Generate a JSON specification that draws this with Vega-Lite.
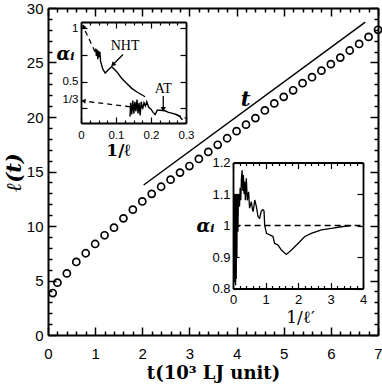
{
  "$schema": "https://vega.github.io/schema/vega-lite/v6.json",
  "width": 330,
  "height": 327,
  "autosize": "none",
  "padding": {"left": 48, "top": 8, "right": 4, "bottom": 49},
  "config": {
    "view": {"stroke": null},
    "axis": {"grid": false, "domainColor": "black", "tickColor": "black", "labelColor": "black", "titleColor": "black", "labelFlush": false, "labelOverlap": false, "labelBound": false}
  },
  "datasets": {
    "circles": [
      {"t": 0.1, "l": 3.85}, {"t": 0.2, "l": 4.8}, {"t": 0.4, "l": 5.65}, {"t": 0.6, "l": 6.7},
      {"t": 0.8, "l": 7.5}, {"t": 1.0, "l": 8.35}, {"t": 1.2, "l": 9.15}, {"t": 1.4, "l": 9.85},
      {"t": 1.6, "l": 10.7}, {"t": 1.8, "l": 11.5}, {"t": 2.0, "l": 12.25}, {"t": 2.2, "l": 12.95},
      {"t": 2.4, "l": 13.6}, {"t": 2.6, "l": 14.25}, {"t": 2.8, "l": 14.9}, {"t": 3.0, "l": 15.5},
      {"t": 3.2, "l": 16.15}, {"t": 3.4, "l": 16.8}, {"t": 3.6, "l": 17.45}, {"t": 3.8, "l": 18.05},
      {"t": 4.0, "l": 18.7}, {"t": 4.2, "l": 19.3}, {"t": 4.4, "l": 19.9}, {"t": 4.6, "l": 20.6},
      {"t": 4.8, "l": 21.25}, {"t": 5.0, "l": 21.85}, {"t": 5.2, "l": 22.45}, {"t": 5.4, "l": 23.1},
      {"t": 5.6, "l": 23.65}, {"t": 5.8, "l": 24.25}, {"t": 6.0, "l": 24.85}, {"t": 6.2, "l": 25.45},
      {"t": 6.4, "l": 26.1}, {"t": 6.6, "l": 26.7}, {"t": 6.8, "l": 27.35}, {"t": 7.0, "l": 28.0}
    ],
    "tline": [{"t": 2.03, "l": 13.76}, {"t": 6.73, "l": 28.7}],
    "tlabel": [{"t": 4.19, "l": 21.6, "label": "t"}],
    "in1": [
      {"s": "nht", "i": 1, "x": 0.040, "y": 0.78}, {"s": "nht", "i": 2, "x": 0.042, "y": 0.81},
      {"s": "nht", "i": 3, "x": 0.044, "y": 0.74}, {"s": "nht", "i": 4, "x": 0.046, "y": 0.80},
      {"s": "nht", "i": 5, "x": 0.048, "y": 0.71}, {"s": "nht", "i": 6, "x": 0.050, "y": 0.79},
      {"s": "nht", "i": 7, "x": 0.052, "y": 0.73}, {"s": "nht", "i": 8, "x": 0.054, "y": 0.78},
      {"s": "nht", "i": 9, "x": 0.056, "y": 0.69}, {"s": "nht", "i": 10, "x": 0.062, "y": 0.62},
      {"s": "nht", "i": 11, "x": 0.069, "y": 0.58}, {"s": "nht", "i": 12, "x": 0.078, "y": 0.61},
      {"s": "nht", "i": 13, "x": 0.088, "y": 0.64}, {"s": "nht", "i": 14, "x": 0.102, "y": 0.593},
      {"s": "nht", "i": 15, "x": 0.116, "y": 0.531}, {"s": "nht", "i": 16, "x": 0.13, "y": 0.484},
      {"s": "nht", "i": 17, "x": 0.145, "y": 0.436}, {"s": "nht", "i": 18, "x": 0.159, "y": 0.404},
      {"s": "nht", "i": 19, "x": 0.183, "y": 0.357},
      {"s": "at", "i": 1, "x": 0.140, "y": 0.17}, {"s": "at", "i": 2, "x": 0.142, "y": 0.30},
      {"s": "at", "i": 3, "x": 0.145, "y": 0.19}, {"s": "at", "i": 4, "x": 0.148, "y": 0.32},
      {"s": "at", "i": 5, "x": 0.151, "y": 0.20}, {"s": "at", "i": 6, "x": 0.154, "y": 0.31},
      {"s": "at", "i": 7, "x": 0.157, "y": 0.22}, {"s": "at", "i": 8, "x": 0.160, "y": 0.33},
      {"s": "at", "i": 9, "x": 0.163, "y": 0.20}, {"s": "at", "i": 10, "x": 0.166, "y": 0.30},
      {"s": "at", "i": 11, "x": 0.169, "y": 0.18}, {"s": "at", "i": 12, "x": 0.172, "y": 0.31},
      {"s": "at", "i": 13, "x": 0.176, "y": 0.24}, {"s": "at", "i": 14, "x": 0.180, "y": 0.30},
      {"s": "at", "i": 15, "x": 0.184, "y": 0.27}, {"s": "at", "i": 16, "x": 0.188, "y": 0.31},
      {"s": "at", "i": 17, "x": 0.193, "y": 0.26}, {"s": "at", "i": 18, "x": 0.200, "y": 0.24},
      {"s": "at", "i": 19, "x": 0.206, "y": 0.21}, {"s": "at", "i": 20, "x": 0.212, "y": 0.19},
      {"s": "at", "i": 21, "x": 0.218, "y": 0.23}, {"s": "at", "i": 22, "x": 0.226, "y": 0.23},
      {"s": "at", "i": 23, "x": 0.240, "y": 0.225}, {"s": "at", "i": 24, "x": 0.250, "y": 0.21},
      {"s": "at", "i": 25, "x": 0.262, "y": 0.20}, {"s": "at", "i": 26, "x": 0.272, "y": 0.19},
      {"s": "at", "i": 27, "x": 0.282, "y": 0.17}, {"s": "at", "i": 28, "x": 0.290, "y": 0.14},
      {"s": "d1", "i": 1, "x": 0.040, "y": 0.78}, {"s": "d1", "i": 2, "x": 0.006, "y": 1.02},
      {"s": "d2", "i": 1, "x": 0.140, "y": 0.263}, {"s": "d2", "i": 2, "x": 0.006, "y": 0.317},
      {"s": "d3", "i": 1, "x": 0.272, "y": 0.19}, {"s": "d3", "i": 2, "x": 0.300, "y": 0.155}
    ],
    "in1text": [{"x": 0.126, "y": 0.83, "label": "NHT"}, {"x": 0.235, "y": 0.43, "label": "AT"}],
    "in1arrows": [
      {"x": 0.12, "y": 0.755, "x2": 0.093, "y2": 0.665},
      {"x": 0.235, "y": 0.365, "x2": 0.235, "y2": 0.25}
    ],
    "in1heads": [
      {"h": "nht", "x": 0.091, "y": 0.658},
      {"h": "at", "x": 0.235, "y": 0.24},
      {"h": "d1", "x": 0.007, "y": 1.02},
      {"h": "d2", "x": 0.007, "y": 0.317}
    ],
    "in2": [
      {"i": 1, "x": 0.02, "y": 1.0}, {"i": 2, "x": 0.04, "y": 0.82}, {"i": 3, "x": 0.05, "y": 1.10},
      {"i": 4, "x": 0.06, "y": 0.85}, {"i": 5, "x": 0.07, "y": 1.08}, {"i": 6, "x": 0.08, "y": 0.81},
      {"i": 7, "x": 0.09, "y": 1.10}, {"i": 8, "x": 0.10, "y": 0.83}, {"i": 9, "x": 0.11, "y": 1.05},
      {"i": 10, "x": 0.12, "y": 0.90}, {"i": 11, "x": 0.13, "y": 1.10}, {"i": 12, "x": 0.15, "y": 0.98},
      {"i": 13, "x": 0.17, "y": 1.10}, {"i": 14, "x": 0.20, "y": 1.06}, {"i": 15, "x": 0.22, "y": 1.12},
      {"i": 16, "x": 0.24, "y": 1.08}, {"i": 17, "x": 0.26, "y": 1.15}, {"i": 18, "x": 0.28, "y": 1.175},
      {"i": 19, "x": 0.30, "y": 1.11}, {"i": 20, "x": 0.32, "y": 1.16}, {"i": 21, "x": 0.34, "y": 1.10},
      {"i": 22, "x": 0.36, "y": 1.14}, {"i": 23, "x": 0.38, "y": 1.08}, {"i": 24, "x": 0.41, "y": 1.15},
      {"i": 25, "x": 0.44, "y": 1.08}, {"i": 26, "x": 0.48, "y": 1.107}, {"i": 27, "x": 0.51, "y": 1.055},
      {"i": 28, "x": 0.565, "y": 1.076}, {"i": 29, "x": 0.60, "y": 1.05}, {"i": 30, "x": 0.62, "y": 1.044},
      {"i": 31, "x": 0.67, "y": 1.081}, {"i": 32, "x": 0.72, "y": 1.06}, {"i": 33, "x": 0.77, "y": 1.028},
      {"i": 34, "x": 0.82, "y": 1.023}, {"i": 35, "x": 0.87, "y": 1.046}, {"i": 36, "x": 0.92, "y": 1.05},
      {"i": 37, "x": 0.955, "y": 1.046}, {"i": 38, "x": 0.975, "y": 1.0}, {"i": 39, "x": 1.03, "y": 0.975},
      {"i": 40, "x": 1.13, "y": 0.97}, {"i": 41, "x": 1.23, "y": 0.965}, {"i": 42, "x": 1.28, "y": 0.943},
      {"i": 43, "x": 1.385, "y": 0.938}, {"i": 44, "x": 1.49, "y": 0.922}, {"i": 45, "x": 1.64, "y": 0.908},
      {"i": 46, "x": 1.8, "y": 0.922}, {"i": 47, "x": 2.0, "y": 0.943}, {"i": 48, "x": 2.21, "y": 0.965},
      {"i": 49, "x": 2.41, "y": 0.975}, {"i": 50, "x": 2.72, "y": 0.986}, {"i": 51, "x": 3.03, "y": 0.991},
      {"i": 52, "x": 3.33, "y": 0.996}, {"i": 53, "x": 3.64, "y": 0.9995}
    ],
    "in2dash": [{"x": 0.05, "y": 1.0}, {"x": 4.0, "y": 1.0}]
  },
  "layer": [
    {
      "layer": [
        {
          "data": {"name": "circles"},
          "mark": {"type": "point", "shape": "circle", "filled": false, "stroke": "black", "strokeWidth": 1.7, "size": 50, "opacity": 1},
          "encoding": {
            "x": {"field": "t", "type": "quantitative", "scale": {"domain": [0, 7], "nice": false, "zero": false},
              "axis": {"orient": "bottom", "values": [0,0.2,0.4,0.6,0.8,1,1.2,1.4,1.6,1.8,2,2.2,2.4,2.6,2.8,3,3.2,3.4,3.6,3.8,4,4.2,4.4,4.6,4.8,5,5.2,5.4,5.6,5.8,6,6.2,6.4,6.6,6.8,7],
                "tickSize": {"condition": {"test": "abs(datum.value-round(datum.value))<0.001", "value": -8}, "value": -4},
                "tickWidth": 1.5, "domainWidth": 2,
                "labelExpr": "abs(datum.value-round(datum.value))<0.001 ? format(datum.value,'d') : ''",
                "labelFont": "Liberation Sans", "labelFontSize": 15, "labelPadding": 19,
                "title": "t(10³ LJ unit)", "titleFont": "DejaVu Serif", "titleFontWeight": "bold", "titleFontSize": 18,
                "titleX": 165, "titleY": 43, "titleAlign": "center", "titleBaseline": "alphabetic"}},
            "y": {"field": "l", "type": "quantitative", "scale": {"domain": [0, 30], "nice": false, "zero": false},
              "axis": {"orient": "left", "values": [0,1,2,3,4,5,6,7,8,9,10,11,12,13,14,15,16,17,18,19,20,21,22,23,24,25,26,27,28,29,30],
                "tickSize": {"condition": {"test": "datum.value % 5 === 0", "value": -8}, "value": -4},
                "tickWidth": 1.5, "domainWidth": 2,
                "labelExpr": "datum.value % 5 === 0 ? format(datum.value,'d') : ''",
                "labelFont": "Liberation Sans", "labelFontSize": 15, "labelPadding": 13,
                "title": "ℓ(t)", "titleFont": "DejaVu Serif", "titleFontWeight": "bold", "titleFontStyle": "italic", "titleFontSize": 21,
                "titleAngle": 270, "titleX": -34, "titleY": 164, "titleAlign": "center", "titleBaseline": "middle"}}
          }
        },
        {
          "data": {"name": "tline"},
          "mark": {"type": "line", "color": "black", "strokeWidth": 1.5},
          "encoding": {
            "x": {"field": "t", "type": "quantitative", "axis": null},
            "y": {"field": "l", "type": "quantitative", "axis": null}
          }
        },
        {
          "data": {"name": "tlabel"},
          "mark": {"type": "text", "font": "DejaVu Serif", "fontWeight": "bold", "fontStyle": "italic", "fontSize": 21, "color": "black"},
          "encoding": {
            "x": {"field": "t", "type": "quantitative", "axis": null},
            "y": {"field": "l", "type": "quantitative", "axis": null},
            "text": {"field": "label"}
          }
        },
        {
          "data": {"name": "circles"},
          "mark": {"type": "point", "opacity": 0},
          "encoding": {
            "x": {"field": "t", "type": "quantitative",
              "axis": {"orient": "top", "values": [0,0.2,0.4,0.6,0.8,1,1.2,1.4,1.6,1.8,2,2.2,2.4,2.6,2.8,3,3.2,3.4,3.6,3.8,4,4.2,4.4,4.6,4.8,5,5.2,5.4,5.6,5.8,6,6.2,6.4,6.6,6.8,7],
                "tickSize": {"condition": {"test": "abs(datum.value-round(datum.value))<0.001", "value": -8}, "value": -4},
                "tickWidth": 1.5, "domainWidth": 2, "labels": false, "title": null}},
            "y": {"field": "l", "type": "quantitative",
              "axis": {"orient": "right", "values": [0,1,2,3,4,5,6,7,8,9,10,11,12,13,14,15,16,17,18,19,20,21,22,23,24,25,26,27,28,29,30],
                "tickSize": {"condition": {"test": "datum.value % 5 === 0", "value": -8}, "value": -4},
                "tickWidth": 1.5, "domainWidth": 2, "labels": false, "title": null}}
          }
        }
      ]
    },
    {
      "layer": [
        {
          "data": {"name": "in1"},
          "transform": [{"filter": "datum.s == 'nht' || datum.s == 'at'"}],
          "mark": {"type": "line", "color": "black", "strokeWidth": 1.4},
          "encoding": {
            "x": {"field": "x", "type": "quantitative", "scale": {"domain": [0, 0.3], "range": [33, 138], "nice": false, "zero": false},
              "axis": {"orient": "bottom", "offset": -212, "values": [0,0.025,0.05,0.075,0.1,0.125,0.15,0.175,0.2,0.225,0.25,0.275,0.3],
                "tickSize": {"condition": {"test": "abs(datum.value*10-round(datum.value*10))<0.001", "value": -6}, "value": -3},
                "tickWidth": 1.2, "domainWidth": 1.8,
                "labelExpr": "abs(datum.value*10-round(datum.value*10))<0.001 ? (datum.value == 0 ? '0' : format(datum.value,'.1f')) : ''",
                "labelFont": "Liberation Sans", "labelFontSize": 11.5, "labelPadding": 12,
                "title": "1/ℓ", "titleFont": "DejaVu Serif", "titleFontWeight": "bold", "titleFontSize": 17,
                "titleX": 70, "titleY": 27, "titleAlign": "center", "titleBaseline": "middle"}},
            "y": {"field": "y", "type": "quantitative", "scale": {"domain": [0.11, 1.06], "range": [115, 14], "nice": false, "zero": false},
              "axis": {"orient": "left", "offset": -33, "values": [1, 0.75, 0.5, 0.333333, 0.25],
                "tickSize": -6, "tickWidth": 1.2, "domainWidth": 1.8, "labelOverlap": false,
                "tickOpacity": {"condition": {"test": "datum.value > 0.3 && datum.value < 0.36", "value": 0}, "value": 1},
                "labelExpr": "datum.value > 0.9 ? '1' : (datum.value > 0.45 && datum.value < 0.55 ? '0.5' : (datum.value > 0.3 && datum.value < 0.36 ? '1/3' : ''))",
                "labelFont": "Liberation Sans", "labelFontSize": 11.5, "labelPadding": 9,
                "title": "αᵢ", "titleFont": "DejaVu Serif", "titleFontWeight": "bold", "titleFontStyle": "italic", "titleFontSize": 18,
                "titleAngle": 0, "titleX": -16, "titleY": 46, "titleAlign": "center", "titleBaseline": "middle"}},
            "detail": {"field": "s"},
            "order": {"field": "i", "type": "quantitative"}
          }
        },
        {
          "data": {"name": "in1"},
          "transform": [{"filter": "datum.s == 'd1' || datum.s == 'd2' || datum.s == 'd3'"}],
          "mark": {"type": "line", "color": "black", "strokeWidth": 1.3, "strokeDash": [5, 4]},
          "encoding": {
            "x": {"field": "x", "type": "quantitative", "axis": null},
            "y": {"field": "y", "type": "quantitative", "axis": null},
            "detail": {"field": "s"},
            "order": {"field": "i", "type": "quantitative"}
          }
        },
        {
          "data": {"name": "in1arrows"},
          "mark": {"type": "rule", "color": "black", "strokeWidth": 1.3},
          "encoding": {
            "x": {"field": "x", "type": "quantitative", "axis": null},
            "y": {"field": "y", "type": "quantitative", "axis": null},
            "x2": {"field": "x2"},
            "y2": {"field": "y2"}
          }
        },
        {
          "data": {"name": "in1heads"},
          "transform": [{"filter": "datum.h == 'nht'"}],
          "mark": {"type": "point", "shape": "triangle-up", "filled": true, "color": "black", "size": 28, "angle": 225, "opacity": 1},
          "encoding": {
            "x": {"field": "x", "type": "quantitative", "axis": null},
            "y": {"field": "y", "type": "quantitative", "axis": null}
          }
        },
        {
          "data": {"name": "in1heads"},
          "transform": [{"filter": "datum.h == 'at'"}],
          "mark": {"type": "point", "shape": "triangle-up", "filled": true, "color": "black", "size": 28, "angle": 180, "opacity": 1},
          "encoding": {
            "x": {"field": "x", "type": "quantitative", "axis": null},
            "y": {"field": "y", "type": "quantitative", "axis": null}
          }
        },
        {
          "data": {"name": "in1heads"},
          "transform": [{"filter": "datum.h == 'd1'"}],
          "mark": {"type": "point", "shape": "triangle-up", "filled": true, "color": "black", "size": 24, "angle": 335, "opacity": 1},
          "encoding": {
            "x": {"field": "x", "type": "quantitative", "axis": null},
            "y": {"field": "y", "type": "quantitative", "axis": null}
          }
        },
        {
          "data": {"name": "in1heads"},
          "transform": [{"filter": "datum.h == 'd2'"}],
          "mark": {"type": "point", "shape": "triangle-up", "filled": true, "color": "black", "size": 24, "angle": 277, "opacity": 1},
          "encoding": {
            "x": {"field": "x", "type": "quantitative", "axis": null},
            "y": {"field": "y", "type": "quantitative", "axis": null}
          }
        },
        {
          "data": {"name": "in1text"},
          "mark": {"type": "text", "font": "Liberation Serif", "fontSize": 14, "color": "black"},
          "encoding": {
            "x": {"field": "x", "type": "quantitative", "axis": null},
            "y": {"field": "y", "type": "quantitative", "axis": null},
            "text": {"field": "label"}
          }
        },
        {
          "data": {"name": "in1"},
          "mark": {"type": "point", "opacity": 0},
          "encoding": {
            "x": {"field": "x", "type": "quantitative",
              "axis": {"orient": "top", "offset": -14, "values": [0,0.025,0.05,0.075,0.1,0.125,0.15,0.175,0.2,0.225,0.25,0.275,0.3],
                "tickSize": {"condition": {"test": "abs(datum.value*10-round(datum.value*10))<0.001", "value": -6}, "value": -3},
                "tickWidth": 1.2, "domainWidth": 1.8, "labels": false, "title": null}},
            "y": {"field": "y", "type": "quantitative",
              "axis": {"orient": "right", "offset": -192, "values": [0.25, 0.5, 0.75, 1],
                "tickSize": -6, "tickWidth": 1.2, "domainWidth": 1.8, "labels": false, "title": null}}
          }
        }
      ]
    },
    {
      "layer": [
        {
          "data": {"name": "in2"},
          "mark": {"type": "line", "color": "black", "strokeWidth": 1.3},
          "encoding": {
            "x": {"field": "x", "type": "quantitative", "scale": {"domain": [0, 4], "range": [185, 315], "nice": false, "zero": false},
              "axis": {"orient": "bottom", "offset": -46.5, "values": [0,0.2,0.4,0.6,0.8,1,1.2,1.4,1.6,1.8,2,2.2,2.4,2.6,2.8,3,3.2,3.4,3.6,3.8,4],
                "tickSize": {"condition": {"test": "abs(datum.value-round(datum.value))<0.001", "value": -6}, "value": -3},
                "tickWidth": 1.2, "domainWidth": 1.8,
                "labelExpr": "abs(datum.value-round(datum.value))<0.001 ? format(datum.value,'d') : ''",
                "labelFont": "Liberation Sans", "labelFontSize": 13, "labelPadding": 11,
                "title": "1/ℓ′", "titleFont": "DejaVu Serif", "titleFontWeight": "normal", "titleFontSize": 17,
                "titleX": 252, "titleY": 28.5, "titleAlign": "center", "titleBaseline": "middle"}},
            "y": {"field": "y", "type": "quantitative", "scale": {"domain": [0.8, 1.2], "range": [280.5, 154.5], "nice": false, "zero": false},
              "axis": {"orient": "left", "offset": -185, "values": [0.8, 0.9, 1, 1.1, 1.2],
                "tickSize": -6, "tickWidth": 1.2, "domainWidth": 1.8,
                "labelExpr": "datum.value == 1 ? '1' : format(datum.value,'.1f')",
                "labelFont": "Liberation Sans", "labelFontSize": 13, "labelPadding": 9,
                "title": "αᵢ", "titleFont": "DejaVu Serif", "titleFontWeight": "bold", "titleFontStyle": "italic", "titleFontSize": 18,
                "titleAngle": 0, "titleX": -28, "titleY": 218, "titleAlign": "center", "titleBaseline": "middle"}},
            "order": {"field": "i", "type": "quantitative"}
          }
        },
        {
          "data": {"name": "in2dash"},
          "mark": {"type": "line", "color": "black", "strokeWidth": 1.3, "strokeDash": [6, 4]},
          "encoding": {
            "x": {"field": "x", "type": "quantitative", "axis": null},
            "y": {"field": "y", "type": "quantitative", "axis": null}
          }
        },
        {
          "data": {"name": "in2"},
          "mark": {"type": "point", "opacity": 0},
          "encoding": {
            "x": {"field": "x", "type": "quantitative",
              "axis": {"orient": "top", "offset": -154.5, "values": [0,0.2,0.4,0.6,0.8,1,1.2,1.4,1.6,1.8,2,2.2,2.4,2.6,2.8,3,3.2,3.4,3.6,3.8,4],
                "tickSize": {"condition": {"test": "abs(datum.value-round(datum.value))<0.001", "value": -6}, "value": -3},
                "tickWidth": 1.2, "domainWidth": 1.8, "labels": false, "title": null}},
            "y": {"field": "y", "type": "quantitative",
              "axis": {"orient": "right", "offset": -15, "values": [0.8, 0.9, 1, 1.1, 1.2],
                "tickSize": -6, "tickWidth": 1.2, "domainWidth": 1.8, "labels": false, "title": null}}
          }
        }
      ]
    }
  ],
  "resolve": {"scale": {"x": "independent", "y": "independent"}}
}
